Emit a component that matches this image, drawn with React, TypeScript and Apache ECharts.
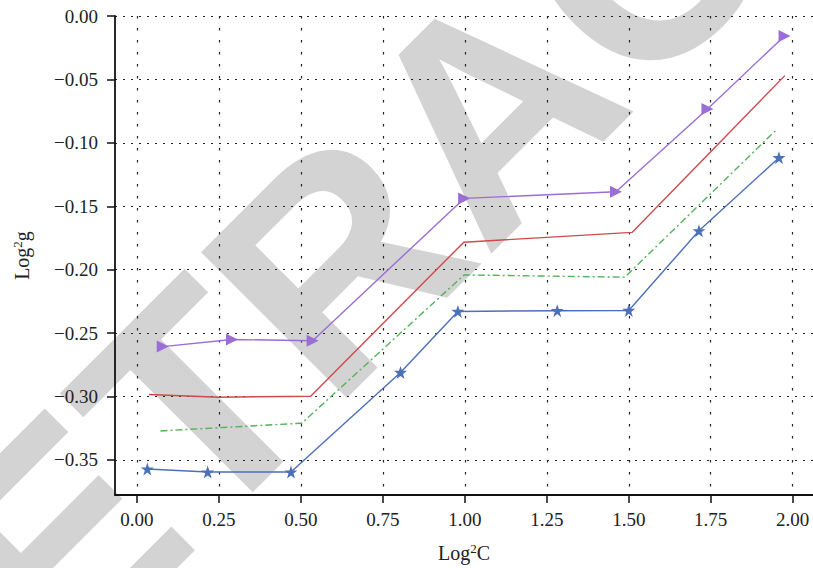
import React, { useEffect, useRef } from 'react';
import * as echarts from 'echarts';

// Tick values
const xTicks = [0, 0.25, 0.5, 0.75, 1.0, 1.25, 1.5, 1.75, 2.0];
const yTicks = [-0.35, -0.3, -0.25, -0.2, -0.15, -0.1, -0.05, 0];

// Series data (Log2C, Log2g)
const purpleX = [0.079, 0.29, 0.536, 0.998, 1.461, 1.74, 1.975];
const purpleY = [-0.2606, -0.255, -0.256, -0.1438, -0.1385, -0.0733, -0.0157];

const redX = [0.037, 0.25, 0.53, 0.997, 1.51, 1.976];
const redY = [-0.2984, -0.3005, -0.2997, -0.1783, -0.1706, -0.047];

const greenX = [0.072, 0.503, 0.998, 1.488, 1.951];
const greenY = [-0.3271, -0.321, -0.2041, -0.2059, -0.0895];

const blueX = [0.032, 0.216, 0.47, 0.804, 0.979, 1.282, 1.5, 1.714, 1.958];
const blueY = [-0.3571, -0.3595, -0.3595, -0.281, -0.2329, -0.2323, -0.2321, -0.1693, -0.1117];

const watermark = 'RETRACTED';

const zip = (xs: number[], ys: number[]) => xs.map((x, i) => [x, ys[i]]);

const STAR = 'path://M12,0L14.9,8.6L24,8.6L16.6,14L19.4,22.8L12,17.4L4.6,22.8L7.4,14L0,8.6L9.1,8.6Z';
const TRI_RIGHT = 'path://M0,0L10,5L0,10Z';

const SERIF = '"Liberation Serif", "Times New Roman", serif';

export default function App() {
  const ref = useRef<HTMLDivElement>(null);
  useEffect(() => {
    if (!ref.current) return;
    const chart = echarts.init(ref.current, undefined, { renderer: 'svg' });
    const fmtY = (v: number) => {
      if (Math.abs(v) < 1e-9) return '0.00';
      return (v < 0 ? '\u2212' : '') + Math.abs(v).toFixed(2);
    };
    chart.setOption({
      animation: false,
      backgroundColor: '#ffffff',
      graphic: [
        {
          type: 'text',
          z: -1,
          silent: true,
          x: 489,
          y: 109,
          rotation: Math.PI / 4,
          style: {
            text: watermark,
            font: 'bold 300px "Liberation Sans", Arial, sans-serif',
            fill: '#d3d3d3',
            align: 'center',
            verticalAlign: 'middle',
          },
        },
      ],
      grid: { left: 115, top: 16, right: -5, bottom: 71, containLabel: false },
      xAxis: {
        type: 'value',
        min: -0.0666,
        max: 2.0618,
        name: 'Log{sup|2}C',
        nameLocation: 'middle',
        nameGap: 47,
        nameTextStyle: {
          fontFamily: SERIF, fontSize: 20, color: '#222',
          rich: { sup: { fontFamily: SERIF, fontSize: 13, color: '#222', verticalAlign: 'top', padding: [0, 0, 9, 0] } },
        },
        axisLine: { onZero: false, lineStyle: { color: '#111', width: 1.8 } },
        axisTick: { customValues: xTicks, length: 8, lineStyle: { color: '#111', width: 1.5 } },
        axisLabel: {
          customValues: xTicks,
          formatter: (v: number) => v.toFixed(2),
          fontFamily: SERIF, fontSize: 19, color: '#222', margin: 15,
        },
        splitLine: { show: true, lineStyle: { color: '#222', width: 1.2, type: [2.5, 9.5] } },
      },
      yAxis: {
        type: 'value',
        min: -0.3776,
        max: 0,
        name: 'Log{sup|2}g',
        nameLocation: 'middle',
        nameGap: 82,
        nameTextStyle: {
          fontFamily: SERIF, fontSize: 20, color: '#222',
          rich: { sup: { fontFamily: SERIF, fontSize: 13, color: '#222', verticalAlign: 'top', padding: [0, 0, 9, 0] } },
        },
        axisLine: { show: true, onZero: false, lineStyle: { color: '#111', width: 1.8 } },
        axisTick: { show: true, customValues: yTicks, length: 8, lineStyle: { color: '#111', width: 1.5 } },
        axisLabel: {
          customValues: yTicks,
          formatter: fmtY,
          fontFamily: SERIF, fontSize: 19, color: '#222', margin: 17,
        },
        splitLine: { show: true, lineStyle: { color: '#222', width: 1.2, type: [2, 6] } },
      },
      series: [
        {
          type: 'line',
          data: zip(purpleX, purpleY),
          symbol: TRI_RIGHT,
          symbolSize: [12, 12],
          showSymbol: true,
          itemStyle: { color: '#9a6ed6' },
          lineStyle: { color: '#9a6ed6', width: 1.4 },
          z: 5,
        },
        {
          type: 'line',
          data: zip(redX, redY),
          symbol: 'none',
          lineStyle: { color: '#d0494b', width: 1.4 },
          z: 4,
        },
        {
          type: 'line',
          data: zip(greenX, greenY),
          symbol: 'none',
          lineStyle: { color: '#55b15a', width: 1.4, type: [7, 3, 2, 3] },
          z: 3,
        },
        {
          type: 'line',
          data: zip(blueX, blueY),
          symbol: STAR,
          symbolSize: [13, 13],
          itemStyle: { color: '#4b70b8' },
          lineStyle: { color: '#4b70b8', width: 1.4 },
          z: 6,
        },
      ],
    });
    return () => chart.dispose();
  }, []);
  return (
    <div
      ref={ref}
      style={{ position: 'absolute', left: 0, top: 0, width: 813, height: 568 }}
    />
  );
}
